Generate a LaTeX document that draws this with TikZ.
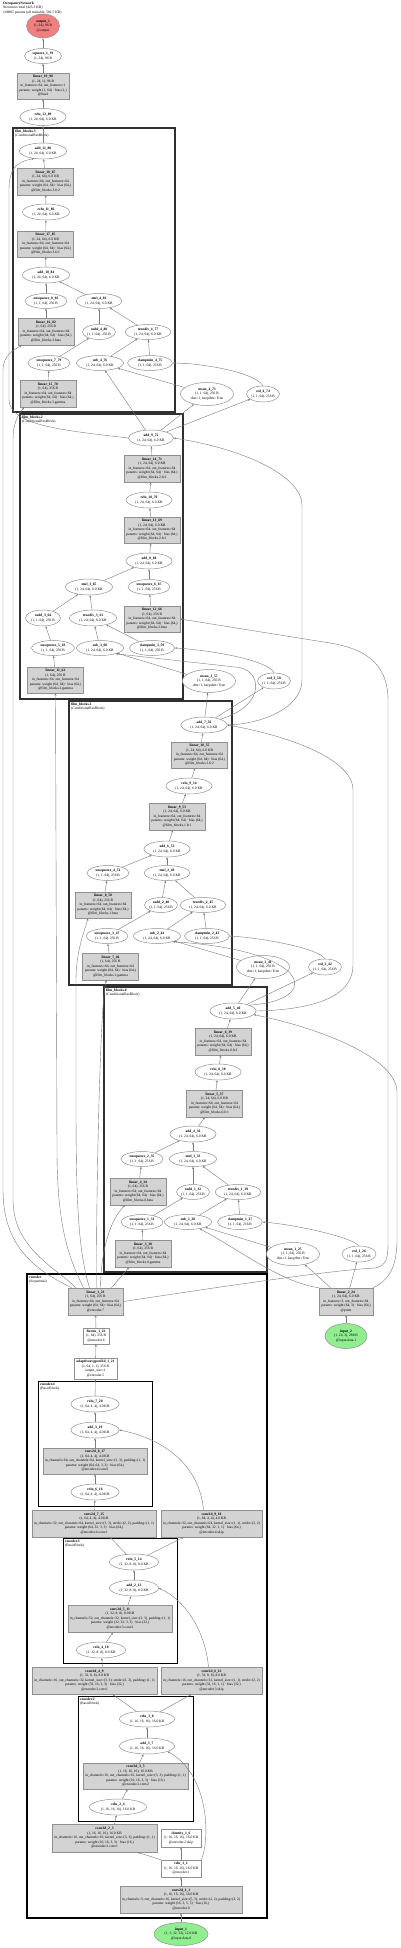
\documentclass[tikz,border=0pt]{standalone}
\usepackage{fontspec}
\setmainfont{Liberation Serif}
\usetikzlibrary{shapes.geometric,arrows.meta}
\definecolor{bord}{HTML}{909090}
\definecolor{boxgray}{HTML}{D3D3D3}
\definecolor{edgec}{HTML}{7A7A7A}
\definecolor{redf}{HTML}{F08080}
\definecolor{greenf}{HTML}{90EE90}
\definecolor{clc}{HTML}{303030}
\newcommand\nf{\fontsize{3.6}{4.5}\selectfont}
\newcommand\sA{(1, 24, 64), 6.0 KB}
\newcommand\sB{(1, 1, 64), 256 B}
\newcommand\sC{(1, 64), 256 B}
\newcommand\linp{in\_features=64, out\_features=64\\params: weight (64, 64) · bias (64,)}
\newcommand\mknode[7]{\node[#1, minimum width=#5pt, minimum height=#6pt] (#2) at (#3,#4) {}; \node[txt] at (#2.center) {#7};}
\begin{document}
\begin{tikzpicture}[x=1pt,y=-1pt,
 gbox/.style={draw=bord, fill=boxgray, rectangle, inner sep=0pt, line width=0.5pt},
 wbox/.style={draw=bord, fill=white, rectangle, inner sep=0pt, line width=0.5pt},
 ell/.style={draw=bord, fill=white, ellipse, inner sep=0pt, line width=0.5pt},
 txt/.style={align=center, inner sep=0pt, font=\nf},
 e/.style={draw=edgec, line width=0.4pt, -{Stealth[length=2.4pt,width=2pt]}},
 fb/.style={draw=clc, line width=1.6pt},
 ec/.style={draw=black, line width=1.1pt},
 ic/.style={draw=black, line width=0.8pt},
 lab/.style={anchor=north west, align=left, inner sep=0pt, font=\nf}]
\useasboundingbox (0,0) rectangle (400,1948);
% header
\node[lab] (hdr) at (3,1.5) {\textbf{OccupancyNetwork}\\94 tensors total (425.3 KB)\\148865 params (all trainable, 581.5 KB)};
% clusters
\draw[fb] (13,128) rectangle (175,412);
\node[lab] (lfb3) at (15,129.5) {\textbf{film\_blocks.3}\\(ConditionalResBlock)};
\draw[fb] (20,414) rectangle (183,699);
\node[lab] (lfb2) at (22,415.5) {\textbf{film\_blocks.2}\\(ConditionalResBlock)};
\draw[fb] (69,701) rectangle (232,985);
\node[lab] (lfb1) at (71,702.5) {\textbf{film\_blocks.1}\\(ConditionalResBlock)};
\draw[fb] (104,987) rectangle (267,1272);
\node[lab] (lfb0) at (106,988.5) {\textbf{film\_blocks.0}\\(ConditionalResBlock)};
\draw[ec] (27,1274) rectangle (267,1918);
\node[lab] (lenc) at (29,1275.5) {\textbf{encoder}\\(Sequential)};
\draw[ic] (38,1381) rectangle (152,1506);
\node[lab] (lenc4) at (40,1382.5) {\textbf{encoder.4}\\(BasicBlock)};
\draw[ic] (63,1538) rectangle (177,1663);
\node[lab] (lenc3) at (65,1539.5) {\textbf{encoder.3}\\(BasicBlock)};
\draw[ic] (78,1696) rectangle (193,1821);
\node[lab] (lenc2) at (80,1697.5) {\textbf{encoder.2}\\(BasicBlock)};
% top / film_blocks.3
\mknode{ell,fill=redf}{out}{43}{26}{33}{24}{\textbf{output\_1}\\(1, 24), 96 B\\@output}
\mknode{ell}{sq}{43}{56}{37}{15}{\textbf{squeeze\_1\_91}\\(1, 24), 96 B}
\mknode{gbox}{l19}{43}{86}{52}{26}{\textbf{linear\_19\_90}\\(1, 24, 1), 96 B\\in\_features=64, out\_features=1\\params: weight (1, 64) · bias (1,)\\@head}
\mknode{ell}{relu12}{43}{117}{46}{17}{\textbf{relu\_12\_89}\\\sA}
\mknode{ell}{add11}{43}{151}{47}{16}{\textbf{add\_11\_88}\\\sA}
\mknode{gbox}{l18}{45.5}{181.5}{56}{27}{\textbf{linear\_18\_87}\\\sA\\\linp\\@film\_blocks.3.fc2}
\mknode{ell}{relu11}{46}{212}{47}{16}{\textbf{relu\_11\_86}\\\sA}
\mknode{gbox}{l17}{45.5}{244}{56}{26}{\textbf{linear\_17\_85}\\\sA\\\linp\\@film\_blocks.3.fc1}
\mknode{ell}{add10}{46}{275}{47}{16}{\textbf{add\_10\_84}\\\sA}
\mknode{ell}{unsq8}{46}{301}{42}{15}{\textbf{unsqueeze\_8\_83}\\\sB}
\mknode{ell}{mul4}{99}{301}{46}{15}{\textbf{mul\_4\_81}\\\sA}
\mknode{gbox}{l16}{46}{331.5}{56}{27}{\textbf{linear\_16\_82}\\\sC\\\linp\\@film\_blocks.3.beta}
\mknode{ell}{radd4}{99}{332}{33}{15}{\textbf{radd\_4\_80}\\\sB}
\mknode{ell}{div4}{148}{332}{46}{15}{\textbf{truediv\_4\_77}\\\sA}
\mknode{ell}{unsq7}{49}{363}{42}{15}{\textbf{unsqueeze\_7\_79}\\\sB}
\mknode{ell}{sub4}{100}{363}{47}{15}{\textbf{sub\_4\_76}\\\sA}
\mknode{ell}{clamp4}{150}{363}{45}{15}{\textbf{clampmin\_4\_75}\\\sB}
\mknode{gbox}{l15}{48}{393.5}{56}{27}{\textbf{linear\_15\_78}\\\sC\\\linp\\@film\_blocks.3.gamma}
\mknode{ell}{mean4}{207}{394}{53}{23}{\textbf{mean\_4\_73}\\\sB\\dim=1, keepdim=True}
\mknode{ell}{std4}{263}{394}{33}{16}{\textbf{std\_4\_74}\\\sB}
% film_blocks.2
\mknode{ell}{add9}{151}{438}{45}{16}{\textbf{add\_9\_72}\\\sA}
\mknode{gbox}{l14}{152}{468.5}{56}{27}{\textbf{linear\_14\_71}\\\sA\\\linp\\@film\_blocks.2.fc2}
\mknode{ell}{relu10}{149}{500}{46}{16}{\textbf{relu\_10\_70}\\\sA}
\mknode{gbox}{l13}{152}{530}{56}{26}{\textbf{linear\_13\_69}\\\sA\\\linp\\@film\_blocks.2.fc1}
\mknode{ell}{add8}{149}{561}{46}{16}{\textbf{add\_8\_68}\\\sA}
\mknode{ell}{mul3}{89}{587}{47}{16}{\textbf{mul\_3\_65}\\\sA}
\mknode{ell}{unsq6}{149}{587}{42}{15}{\textbf{unsqueeze\_6\_67}\\\sB}
\mknode{ell}{radd3}{43}{618}{35}{16}{\textbf{radd\_3\_64}\\\sB}
\mknode{ell}{div3}{93}{618}{47}{16}{\textbf{truediv\_3\_61}\\\sA}
\mknode{gbox}{l12}{152}{619}{56}{26}{\textbf{linear\_12\_66}\\\sC\\\linp\\@film\_blocks.2.beta}
\mknode{ell}{unsq5}{53}{648}{43}{15}{\textbf{unsqueeze\_5\_63}\\\sB}
\mknode{ell}{sub3}{100}{648}{47}{15}{\textbf{sub\_3\_60}\\\sA}
\mknode{ell}{clamp3}{152}{648}{45}{15}{\textbf{clampmin\_3\_59}\\\sB}
\mknode{gbox}{l11}{55.5}{680}{56}{26}{\textbf{linear\_11\_62}\\\sC\\\linp\\@film\_blocks.2.gamma}
\mknode{ell}{mean3}{209}{681}{53}{23}{\textbf{mean\_3\_57}\\\sB\\dim=1, keepdim=True}
\mknode{ell}{std3}{274}{681}{33}{16}{\textbf{std\_3\_58}\\\sB}
% film_blocks.1
\mknode{ell}{add7}{204}{725}{46}{16}{\textbf{add\_7\_56}\\\sA}
\mknode{gbox}{l10}{199.5}{755}{56}{26}{\textbf{linear\_10\_55}\\\sA\\\linp\\@film\_blocks.1.fc2}
\mknode{ell}{relu9}{189}{786}{46}{16}{\textbf{relu\_9\_54}\\\sA}
\mknode{gbox}{l9}{177}{816.5}{56}{27}{\textbf{linear\_9\_53}\\\sA\\\linp\\@film\_blocks.1.fc1}
\mknode{ell}{add6}{167}{849}{46}{16}{\textbf{add\_6\_52}\\\sA}
\mknode{ell}{unsq4}{108}{873}{42}{15}{\textbf{unsqueeze\_4\_51}\\\sB}
\mknode{ell}{mul2}{167}{873}{46}{15}{\textbf{mul\_2\_49}\\\sA}
\mknode{gbox}{l8}{103}{905}{56}{26}{\textbf{linear\_8\_50}\\\sC\\\linp\\@film\_blocks.1.beta}
\mknode{ell}{radd2}{161}{905}{33}{15}{\textbf{radd\_2\_48}\\\sB}
\mknode{ell}{div2}{203}{905}{46}{15}{\textbf{truediv\_2\_45}\\\sA}
\mknode{ell}{unsq3}{107}{936}{42}{15}{\textbf{unsqueeze\_3\_47}\\\sB}
\mknode{ell}{sub2}{157}{936}{47}{15}{\textbf{sub\_2\_44}\\\sA}
\mknode{ell}{clamp2}{207}{936}{45}{15}{\textbf{clampmin\_2\_43}\\\sB}
\mknode{gbox}{l7}{110.5}{966.5}{56}{27}{\textbf{linear\_7\_46}\\\sC\\\linp\\@film\_blocks.1.gamma}
\mknode{ell}{mean2}{263}{967}{53}{23}{\textbf{mean\_2\_41}\\\sB\\dim=1, keepdim=True}
\mknode{ell}{std2}{325}{967}{33}{16}{\textbf{std\_2\_42}\\\sB}
% film_blocks.0
\mknode{ell}{add5}{233}{1011}{46}{16}{\textbf{add\_5\_40}\\\sA}
\mknode{gbox}{l6}{223}{1041.5}{56}{27}{\textbf{linear\_6\_39}\\\sA\\\linp\\@film\_blocks.0.fc2}
\mknode{ell}{relu8}{218}{1072}{46}{16}{\textbf{relu\_8\_38}\\\sA}
\mknode{gbox}{l5}{214.5}{1103.5}{56}{27}{\textbf{linear\_5\_37}\\\sA\\\linp\\@film\_blocks.0.fc1}
\mknode{ell}{add4}{193}{1134}{46}{16}{\textbf{add\_4\_36}\\\sA}
\mknode{ell}{unsq2}{142}{1159}{42}{15}{\textbf{unsqueeze\_2\_35}\\\sB}
\mknode{ell}{mul1}{193}{1159}{47}{15}{\textbf{mul\_1\_33}\\\sA}
\mknode{gbox}{l4}{138}{1191.5}{56}{27}{\textbf{linear\_4\_34}\\\sC\\\linp\\@film\_blocks.0.beta}
\mknode{ell}{radd1}{193}{1192}{33}{15}{\textbf{radd\_1\_32}\\\sB}
\mknode{ell}{div1}{238}{1192}{46}{15}{\textbf{truediv\_1\_29}\\\sA}
\mknode{ell}{unsq1}{142}{1222}{42}{15}{\textbf{unsqueeze\_1\_31}\\\sB}
\mknode{ell}{sub1}{188}{1222}{47}{15}{\textbf{sub\_1\_28}\\\sA}
\mknode{ell}{clamp1}{240}{1222}{45}{15}{\textbf{clampmin\_1\_27}\\\sB}
\mknode{gbox}{l3}{143}{1253.5}{56}{27}{\textbf{linear\_3\_30}\\\sC\\\linp\\@film\_blocks.0.gamma}
\mknode{ell}{mean1}{293}{1254}{53}{23}{\textbf{mean\_1\_25}\\\sB\\dim=1, keepdim=True}
\mknode{ell}{std1}{359}{1254}{34}{16}{\textbf{std\_1\_26}\\\sB}
% encoder
\mknode{gbox}{l1}{95.5}{1301.5}{55}{27}{\textbf{linear\_1\_23}\\\sC\\\linp\\@encoder.7}
\mknode{gbox}{l2}{346}{1301.5}{54}{27}{\textbf{linear\_2\_24}\\\sA\\in\_features=3, out\_features=64\\params: weight (64, 3) · bias (64,)\\@point}
\mknode{wbox}{flat}{96}{1336}{26}{16}{\textbf{flatten\_1\_22}\\(1, 64), 256 B\\@encoder.6}
\mknode{ell,fill=greenf}{in2}{346}{1336}{42}{25}{\textbf{input\_2}\\(1, 24, 3), 288 B\\@input.data.1}
\mknode{wbox}{pool}{95.5}{1368.5}{43}{21}{\textbf{adaptiveavgpool2d\_1\_21}\\(1, 64, 1, 1), 256 B\\output\_size=1\\@encoder.5}
\mknode{ell}{relu7}{95}{1404}{48}{16}{\textbf{relu\_7\_20}\\(1, 64, 4, 4), 4.0 KB}
\mknode{ell}{add3}{95}{1430}{48}{16}{\textbf{add\_3\_19}\\(1, 64, 4, 4), 4.0 KB}
\mknode{gbox}{c8}{95}{1461}{104}{26}{\textbf{conv2d\_8\_17}\\(1, 64, 4, 4), 4.0 KB\\in\_channels=64, out\_channels=64, kernel\_size=(3, 3), padding=(1, 1)\\params: weight (64, 64, 3, 3) · bias (64,)\\@encoder.4.conv2}
\mknode{ell}{relu6}{95}{1492}{48}{16}{\textbf{relu\_6\_16}\\(1, 64, 4, 4), 4.0 KB}
\mknode{gbox}{c7}{94}{1523.5}{124}{27}{\textbf{conv2d\_7\_15}\\(1, 64, 4, 4), 4.0 KB\\in\_channels=32, out\_channels=64, kernel\_size=(3, 3), stride=(2, 2), padding=(1, 1)\\params: weight (64, 32, 3, 3) · bias (64,)\\@encoder.4.conv1}
\mknode{gbox}{c9}{211.5}{1523.5}{101}{27}{\textbf{conv2d\_9\_18}\\(1, 64, 4, 4), 4.0 KB\\in\_channels=32, out\_channels=64, kernel\_size=(1, 1), stride=(2, 2)\\params: weight (64, 32, 1, 1) · bias (64,)\\@encoder.4.skip}
\mknode{ell}{relu5}{134}{1562}{49}{16}{\textbf{relu\_5\_14}\\(1, 32, 8, 8), 8.0 KB}
\mknode{ell}{add2}{134}{1588}{49}{16}{\textbf{add\_2\_13}\\(1, 32, 8, 8), 8.0 KB}
\mknode{gbox}{c5}{120}{1618.5}{104}{27}{\textbf{conv2d\_5\_11}\\(1, 32, 8, 8), 8.0 KB\\in\_channels=32, out\_channels=32, kernel\_size=(3, 3), padding=(1, 1)\\params: weight (32, 32, 3, 3) · bias (32,)\\@encoder.3.conv2}
\mknode{ell}{relu4}{101}{1650}{49}{16}{\textbf{relu\_4\_10}\\(1, 32, 8, 8), 8.0 KB}
\mknode{gbox}{c4}{94.5}{1680.5}{125}{27}{\textbf{conv2d\_4\_9}\\(1, 32, 8, 8), 8.0 KB\\in\_channels=16, out\_channels=32, kernel\_size=(3, 3), stride=(2, 2), padding=(1, 1)\\params: weight (32, 16, 3, 3) · bias (32,)\\@encoder.3.conv1}
\mknode{gbox}{c6}{211.5}{1680.5}{101}{27}{\textbf{conv2d\_6\_12}\\(1, 32, 8, 8), 8.0 KB\\in\_channels=16, out\_channels=32, kernel\_size=(1, 1), stride=(2, 2)\\params: weight (32, 16, 1, 1) · bias (32,)\\@encoder.3.skip}
\mknode{ell}{relu3}{147}{1719}{55}{16}{\textbf{relu\_3\_8}\\(1, 16, 16, 16), 16.0 KB}
\mknode{ell}{add1}{147}{1746}{55}{16}{\textbf{add\_1\_7}\\(1, 16, 16, 16), 16.0 KB}
\mknode{gbox}{c3}{135.5}{1776}{105}{26}{\textbf{conv2d\_3\_5}\\(1, 16, 16, 16), 16.0 KB\\in\_channels=16, out\_channels=16, kernel\_size=(3, 3), padding=(1, 1)\\params: weight (16, 16, 3, 3) · bias (16,)\\@encoder.2.conv2}
\mknode{ell}{relu2}{118}{1807}{57}{16}{\textbf{relu\_2\_4}\\(1, 16, 16, 16), 16.0 KB}
\mknode{gbox}{c2}{104.5}{1838}{105}{28}{\textbf{conv2d\_2\_3}\\(1, 16, 16, 16), 16.0 KB\\in\_channels=16, out\_channels=16, kernel\_size=(3, 3), padding=(1, 1)\\params: weight (16, 16, 3, 3) · bias (16,)\\@encoder.2.conv1}
\mknode{wbox}{idn}{181}{1838}{40}{18}{\textbf{identity\_1\_6}\\(1, 16, 16, 16), 16.0 KB\\@encoder.2.skip}
\mknode{wbox}{relu1}{181}{1868.5}{40}{17}{\textbf{relu\_1\_2}\\(1, 16, 16, 16), 16.0 KB\\@encoder.1}
\mknode{gbox}{c1}{181}{1899.5}{122}{27}{\textbf{conv2d\_1\_1}\\(1, 16, 16, 16), 16.0 KB\\in\_channels=3, out\_channels=16, kernel\_size=(5, 5), stride=(2, 2), padding=(2, 2)\\params: weight (16, 3, 5, 5) · bias (16,)\\@encoder.0}
\mknode{ell,fill=greenf}{in1}{181}{1934}{54}{23}{\textbf{input\_1}\\(1, 3, 32, 32), 12.0 KB\\@input.data.0}
% ---------- edges: top + block 3
\draw[e] (sq) -- (out);
\draw[e] (l19) -- (sq);
\draw[e] (relu12) -- (l19);
\draw[e] (add11) -- (relu12);
\draw[e] (l18) -- (add11);
\draw[e] (relu11) -- (l18);
\draw[e] (l17) -- (relu11);
\draw[e] (add10) -- (l17);
\draw[e] (unsq8) -- (add10);
\draw[e] (mul4) -- (add10);
\draw[e] (l16) -- (unsq8);
\draw[e] (radd4) -- (mul4);
\draw[e] (div4) -- (mul4);
\draw[e] (unsq7) -- (radd4);
\draw[e] (sub4) -- (div4);
\draw[e] (clamp4) -- (div4);
\draw[e] (l15) -- (unsq7);
\draw[e] (add9) -- (sub4);
\draw[e] (mean4) -- (sub4);
\draw[e] (add9) -- (mean4);
\draw[e] (add9) -- (std4);
\draw[e] (std4.north) .. controls (255,372) and (200,363) .. (clamp4.east);
\draw[e] (add9.west) .. controls (60,430) and (10,425) .. (9,400) -- (9,190) .. controls (9,170) and (15,162) .. (add11.220);
% block 2
\draw[e] (l14) -- (add9);
\draw[e] (relu10) -- (l14);
\draw[e] (l13) -- (relu10);
\draw[e] (add8) -- (l13);
\draw[e] (unsq6) -- (add8);
\draw[e] (mul3) -- (add8);
\draw[e] (l12) -- (unsq6);
\draw[e] (radd3) -- (mul3);
\draw[e] (div3) -- (mul3);
\draw[e] (unsq5) -- (radd3);
\draw[e] (sub3) -- (div3);
\draw[e] (clamp3) -- (div3);
\draw[e] (l11) -- (unsq5);
\draw[e] (add7) -- (mean3);
\draw[e] (add7) -- (std3);
\draw[e] (mean3) -- (sub3);
\draw[e] (std3.north) .. controls (268,660) and (210,650) .. (clamp3.east);
\draw[e] (add7.north east) .. controls (268,705) and (262,668) .. (235,667) -- (sub3.-20);
\draw[e] (add7.east) .. controls (262,724) and (302,708) .. (302,680) -- (302,505) .. controls (302,478) and (250,450) .. (add9.east);
% block 1
\draw[e] (l10) -- (add7);
\draw[e] (relu9) -- (l10);
\draw[e] (l9) -- (relu9);
\draw[e] (add6) -- (l9);
\draw[e] (mul2) -- (add6);
\draw[e] (unsq4) -- (add6);
\draw[e] (l8) -- (unsq4);
\draw[e] (radd2) -- (mul2);
\draw[e] (div2) -- (mul2);
\draw[e] (unsq3) -- (radd2);
\draw[e] (sub2) -- (div2);
\draw[e] (clamp2) -- (div2);
\draw[e] (l7) -- (unsq3);
\draw[e] (add5) -- (mean2);
\draw[e] (add5) -- (std2);
\draw[e] (mean2) -- (sub2);
\draw[e] (std2.north) .. controls (318,948) and (262,938) .. (clamp2.east);
\draw[e] (add5.north east) .. controls (325,1000) and (310,950) .. (sub2.-20);
\draw[e] (add5.east) .. controls (300,1010) and (353,1002) .. (353,965) -- (353,790) .. controls (353,758) and (285,735) .. (add7.east);
% block 0
\draw[e] (l6) -- (add5);
\draw[e] (relu8) -- (l6);
\draw[e] (l5) -- (relu8);
\draw[e] (add4) -- (l5);
\draw[e] (mul1) -- (add4);
\draw[e] (unsq2) -- (add4);
\draw[e] (l4) -- (unsq2);
\draw[e] (radd1) -- (mul1);
\draw[e] (div1) -- (mul1);
\draw[e] (unsq1) -- (radd1);
\draw[e] (sub1) -- (div1);
\draw[e] (clamp1) -- (div1);
\draw[e] (l3) -- (unsq1);
\draw[e] (l2) -- (mean1);
\draw[e] (l2) -- (std1);
\draw[e] (l2.north west) .. controls (280,1282) and (240,1250) .. (sub1.-30);
\draw[e] (mean1) -- (sub1);
\draw[e] (std1.north) .. controls (350,1236) and (290,1224) .. (clamp1.east);
\draw[e] (l2.north east) .. controls (385,1282) and (397,1272) .. (397,1240) -- (397,1092) .. controls (397,1058) and (320,1028) .. (add5.-10);
% condition edges from linear_1_23
\draw[e] ([xshift=16]l1.north) -- ([xshift=-14]l3.south);
\draw[e] ([xshift=5]l1.north) .. controls (101,1250) and (110,1220) .. ([xshift=-13]l4.south);
\draw[e] ([xshift=1]l1.north) .. controls (96,1200) and (100,1000) .. ([xshift=-4]l7.south);
\draw[e] ([xshift=-6]l1.north) .. controls (78,1250) and (76,1200) .. (76,1100) -- (76,980) .. controls (76,950) and (85,930) .. ([xshift=-15]l8.south);
\draw[e] ([xshift=-12]l1.north) .. controls (70,1260) and (57,1230) .. (57,1150) -- (l11.south);
\draw[e] ([xshift=-20]l1.north) .. controls (60,1270) and (13,1250) .. (13,1200) -- (13,440) .. controls (13,420) and (20,413) .. ([xshift=-24]l15.south);
\draw[e] ([xshift=-24]l1.north) .. controls (40,1272) and (3,1250) .. (3,1190) -- (3,370) .. controls (3,355) and (15,349) .. ([xshift=-24]l16.south);
\draw[e] (l1.east) .. controls (200,1290) and (330,1270) .. (375,1268) .. controls (388,1266) and (388,1255) .. (388,1240) -- (388,700) .. controls (388,660) and (360,648) .. (330,643) -- (l12.east);
% encoder edges
\draw[e] (in1) -- (c1);
\draw[e] (c1) -- (relu1);
\draw[e] (relu1) -- (idn);
\draw[e] (relu1.north west) -- ([xshift=33]c2.south);
\draw[e] (relu1.north east) .. controls (210,1840) and (210,1775) .. (add1.-15);
\draw[e] ([xshift=10]c2.north) -- (relu2);
\draw[e] (relu2) -- ([xshift=-8]c3.south);
\draw[e] ([xshift=4]c3.north) -- (add1);
\draw[e] (add1) -- (relu3);
\draw[e] (relu3) -- ([xshift=18]c4.south);
\draw[e] (relu3) -- ([xshift=-20]c6.south);
\draw[e] ([xshift=8]c4.north) -- (relu4);
\draw[e] (relu4) -- ([xshift=-7]c5.south);
\draw[e] ([xshift=8]c5.north) -- (add2);
\draw[e] ([xshift=-3]c6.north) .. controls (205,1630) and (185,1600) .. (add2.east);
\draw[e] (add2) -- (relu5);
\draw[e] (relu5) -- ([xshift=16]c7.south);
\draw[e] (relu5) -- ([xshift=-28]c9.south);
\draw[e] (c7) -- (relu6);
\draw[e] (relu6) -- (c8);
\draw[e] (c8) -- (add3);
\draw[e] ([xshift=-8]c9.north) .. controls (200,1470) and (170,1440) .. (add3.east);
\draw[e] (add3) -- (relu7);
\draw[e] (relu7) -- (pool);
\draw[e] (pool) -- (flat);
\draw[e] (flat) -- (l1);
\draw[e] (in2) -- (l2);
\end{tikzpicture}
\end{document}
